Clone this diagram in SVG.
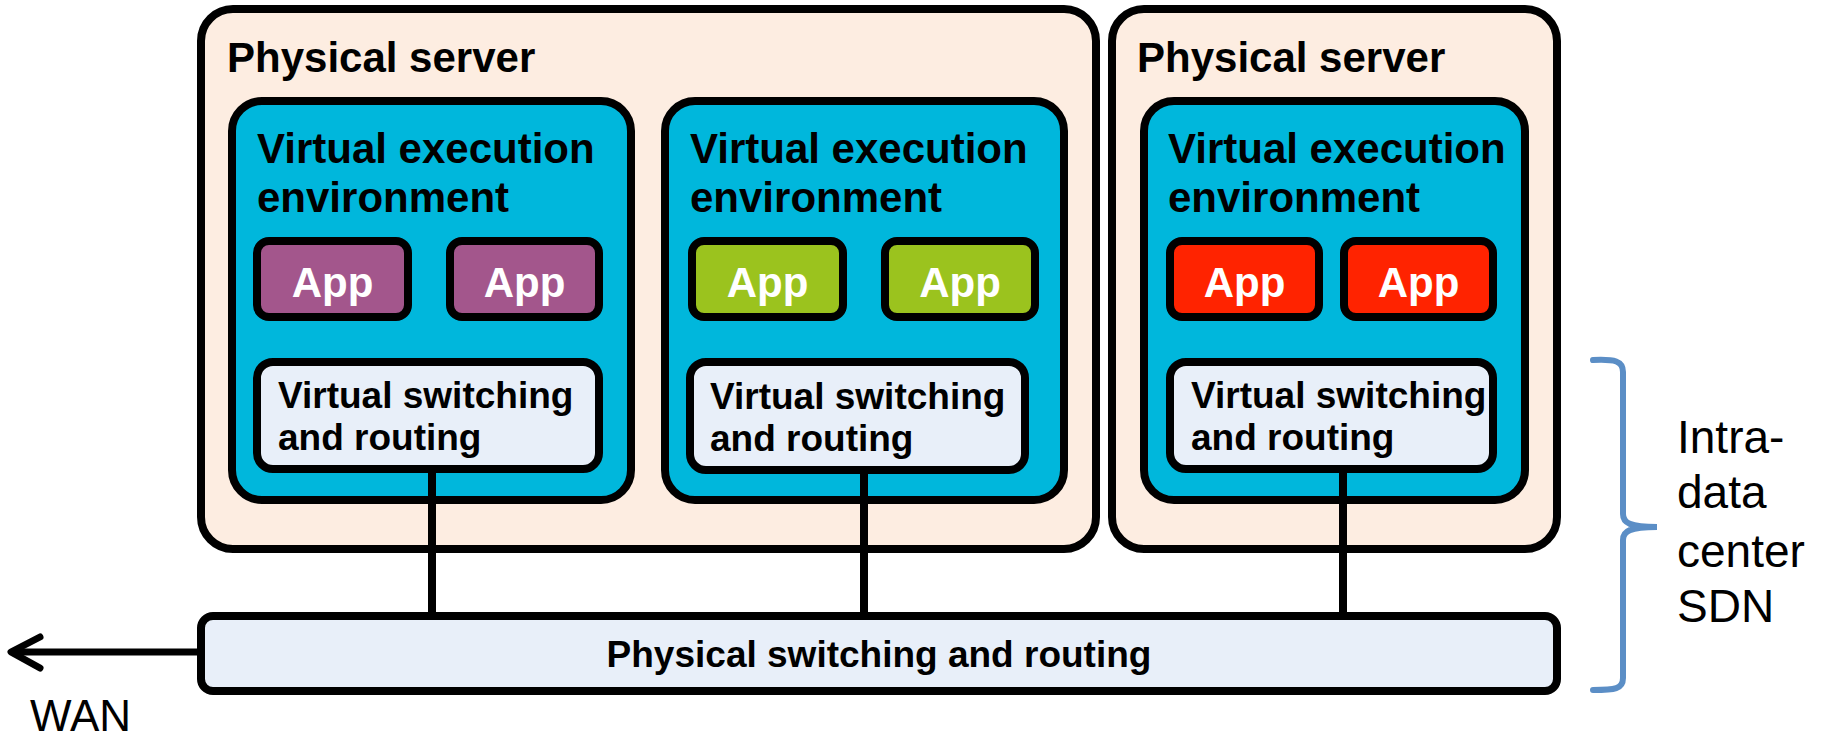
<svg xmlns="http://www.w3.org/2000/svg" width="1822" height="741" viewBox="0 0 1822 741">
<style>
.box{stroke:#000;stroke-width:8}
.srv{fill:#FDEDE1}
.vee{fill:#00B7DC}
.sw{fill:#E8EFF9}
.app1{fill:#A3568C}
.app2{fill:#9BC31E}
.app3{fill:#FF2300}
text{font-family:"Liberation Sans",Arial,sans-serif}
.h{font-size:42px;font-weight:bold;fill:#000}
.a{font-size:42px;font-weight:bold;fill:#fff;text-anchor:middle}
.s{font-size:37px;font-weight:bold;fill:#000}
.r{font-size:46px;fill:#000}
.w{font-size:44px;fill:#000}
</style>
<rect width="1822" height="741" fill="#fff"/>
<g id="server1">
<rect class="box srv" x="201" y="9" width="895" height="540" rx="32"/>
<text class="h" x="227" y="72">Physical server</text>
</g>
<g id="server2">
<rect class="box srv" x="1112" y="9" width="445" height="540" rx="32"/>
<text class="h" x="1137" y="72">Physical server</text>
</g>
<g id="vee1">
<rect class="box vee" x="232" y="101" width="399" height="399" rx="30"/>
<text class="h" x="257" y="163">Virtual execution</text>
<text class="h" x="257" y="212">environment</text>
</g>
<g id="vee2">
<rect class="box vee" x="665" y="101" width="399" height="399" rx="30"/>
<text class="h" x="690" y="163">Virtual execution</text>
<text class="h" x="690" y="212">environment</text>
</g>
<g id="vee3">
<rect class="box vee" x="1144" y="101" width="381" height="399" rx="30"/>
<text class="h" x="1168" y="163">Virtual execution</text>
<text class="h" x="1168" y="212">environment</text>
</g>
<g id="app1a"><rect class="box app1" x="257" y="241" width="151" height="76" rx="12"/><text class="a" x="332.5" y="297">App</text></g>
<g id="app1b"><rect class="box app1" x="450" y="241" width="149" height="76" rx="12"/><text class="a" x="524.5" y="297">App</text></g>
<g id="app2a"><rect class="box app2" x="692" y="241" width="151" height="76" rx="12"/><text class="a" x="767.5" y="297">App</text></g>
<g id="app2b"><rect class="box app2" x="885" y="241" width="150" height="76" rx="12"/><text class="a" x="960" y="297">App</text></g>
<g id="app3a"><rect class="box app3" x="1170" y="241" width="149" height="76" rx="12"/><text class="a" x="1244.5" y="297">App</text></g>
<g id="app3b"><rect class="box app3" x="1344" y="241" width="149" height="76" rx="12"/><text class="a" x="1418.5" y="297">App</text></g>
<g id="vsw1"><rect class="box sw" x="257" y="362" width="342" height="107" rx="16"/><text class="s" x="278" y="408">Virtual switching</text><text class="s" x="278" y="450">and routing</text></g>
<g id="vsw2"><rect class="box sw" x="690" y="362" width="335" height="108" rx="16"/><text class="s" x="710" y="409">Virtual switching</text><text class="s" x="710" y="451">and routing</text></g>
<g id="vsw3"><rect class="box sw" x="1170" y="362" width="323" height="107" rx="16"/><text class="s" x="1191" y="408">Virtual switching</text><text class="s" x="1191" y="450">and routing</text></g>
<g id="connectors" stroke="#000" stroke-width="8" fill="none">
<line x1="432" y1="469" x2="432" y2="616"/>
<line x1="864" y1="470" x2="864" y2="616"/>
<line x1="1343" y1="469" x2="1343" y2="616"/>
<line x1="201" y1="652" x2="12" y2="652" stroke-width="7"/>
<polyline points="40,637 11,652 40,668" stroke-width="7" stroke-linecap="round" stroke-linejoin="round"/>
</g>
<g id="physical-switching">
<rect class="box sw" x="201" y="616" width="1356" height="75" rx="12"/>
<text class="s" x="879" y="667" text-anchor="middle">Physical switching and routing</text>
</g>
<g id="wan"><text class="w" x="30" y="731">WAN</text></g>
<g id="brace">
<path d="M1593,360 C1615,359 1623,361 1623,372 L1623,514 C1623,523 1630,527 1657,527 C1630,527 1623,531 1623,540 L1623,678 C1623,689 1615,690 1593,690" fill="none" stroke="#5B8EC6" stroke-width="6" stroke-linecap="round"/>
<text class="r" x="1677" y="453">Intra-</text>
<text class="r" x="1677" y="508">data</text>
<text class="r" x="1677" y="567">center</text>
<text class="r" x="1677" y="622">SDN</text>
</g>
</svg>
